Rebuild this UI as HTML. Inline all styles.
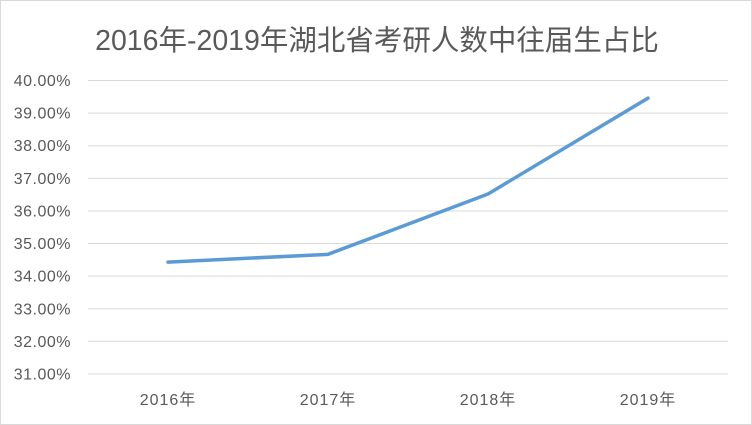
<!DOCTYPE html>
<html><head><meta charset="utf-8"><style>
body{margin:0;background:#fff;}
svg{display:block;font-family:"Liberation Sans","Noto Sans CJK SC",sans-serif;}
</style></head><body>
<svg id="c" width="752" height="425">
<rect x="0.5" y="0.5" width="751" height="424" fill="#fff" stroke="#d9d9d9"/>
<text x="377" y="50" text-anchor="middle" font-size="28.5" fill="#595959">2016年-2019年湖北省考研人数中往届生占比</text>
<g id="grid"></g><g id="ylab"></g><g id="xlab"></g><g id="series"></g>
</svg>
<script>
const categories=["2016年","2017年","2018年","2019年"];
const values=[34.43,34.67,36.52,39.46];
const yTicks=[31,32,33,34,35,36,37,38,39,40];
const ns="http://www.w3.org/2000/svg";
const x0=88,x1=728,yTop=80.5,yBot=374;
const yMin=31,yMax=40;
function ys(v){return yBot-(v-yMin)/(yMax-yMin)*(yBot-yTop);}
function xs(i){return x0+(x1-x0)/categories.length*(i+0.5);}
function mk(t,a,p){const e=document.createElementNS(ns,t);for(const k in a)e.setAttribute(k,a[k]);p.appendChild(e);return e;}
const grid=document.getElementById('grid'),yl=document.getElementById('ylab'),xl=document.getElementById('xlab'),sr=document.getElementById('series');
yTicks.forEach(v=>{
 const l=mk('line',{x1:x0,x2:x1,y1:ys(v),y2:ys(v),stroke:'#d9d9d9','stroke-width':1},grid);
 
 
 const t=mk('text',{x:71,y:ys(v)+5.5,'text-anchor':'end','font-size':16,'letter-spacing':0.5,fill:'#595959'},yl);
 t.textContent=v.toFixed(2)+'%';
 
 
});
categories.forEach((c,i)=>{
 const t=mk('text',{x:xs(i),y:405,'text-anchor':'middle','font-size':16,'letter-spacing':1,fill:'#595959'},xl);
 t.textContent=c;
 
 
});
const p=mk('polyline',{points:values.map((v,i)=>xs(i)+','+ys(v)).join(' '),fill:'none',stroke:'#5b9bd5','stroke-width':3.5,'stroke-linejoin':'round','stroke-linecap':'round'},sr);


</script>
</body></html>
